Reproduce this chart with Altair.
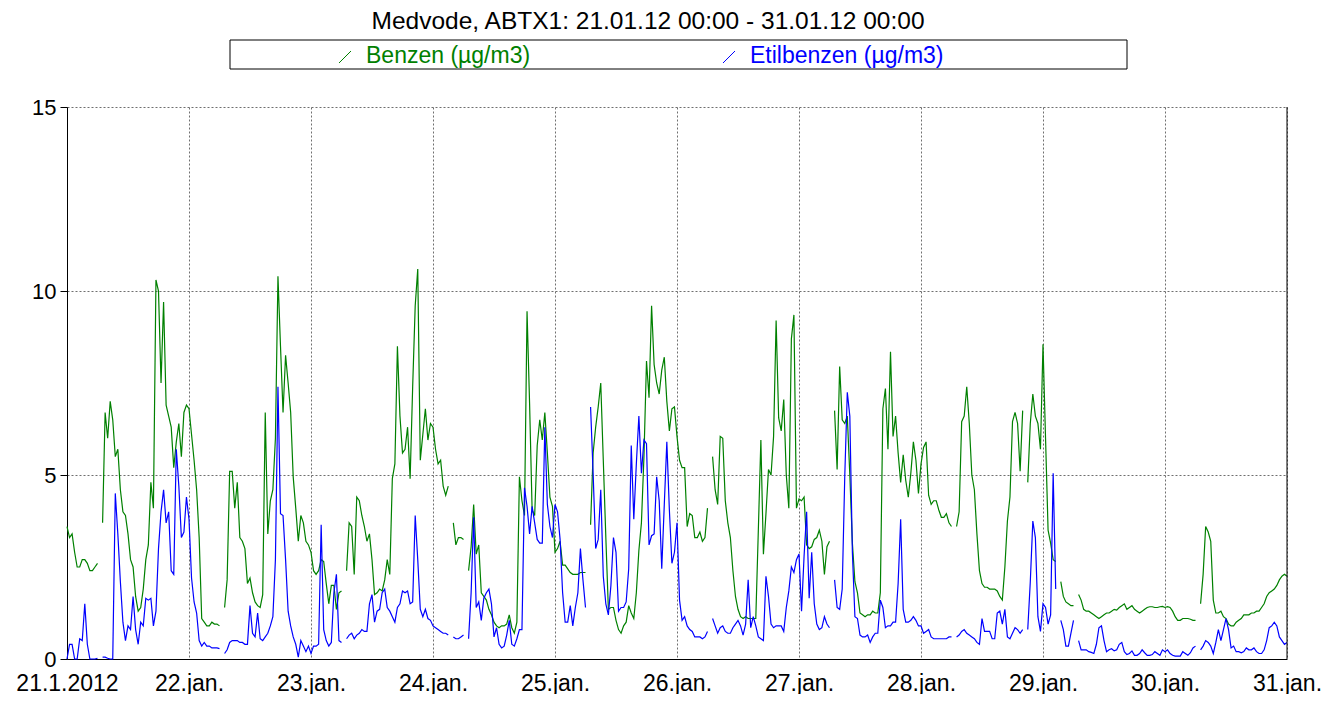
import altair as alt
import pandas as pd

N = None
title_text = "Medvode, ABTX1: 21.01.12 00:00 - 31.01.12 00:00"
series_names = ["Benzen (µg/m3)", "Etilbenzen (µg/m3)"]
series_colors = ["#008000", "#0000ff"]
x_labels = ["21.1.2012", "22.jan.", "23.jan.", "24.jan.", "25.jan.", "26.jan.",
            "27.jan.", "28.jan.", "29.jan.", "30.jan.", "31.jan."]
y_ticks = [0, 5, 10, 15]

# half-hourly values, 48 per day (None = missing)
benzen_21 = [3.6, 3.3, 3.4, 2.9, 2.5, 2.5, 2.7, 2.7, 2.6, 2.4, 2.4, 2.5, 2.6, N, 3.7, 6.7, 6.0, 7.0, 6.5, 5.5, 5.7, 4.6, 4.0, 3.9, 3.4, 2.7, 2.5, 1.7, 1.3, 1.4, 1.9, 2.7, 3.1, 4.8, 4.1, 10.3, 10.0, 7.5, 9.7, 6.9, 6.6, 6.3, 5.2, 5.9, 6.4, 5.5, 6.7, 6.9]
benzen_22 = [6.8, 6.1, 5.4, 4.6, 3.3, 1.1, 1.0, 0.9, 0.9, 1.0, 0.95, 0.95, 0.9, N, 1.4, 2.15, 5.1, 5.1, 4.1, 4.8, 3.3, 3.2, 3.0, 2.05, 2.2, 1.8, 1.55, 1.45, 1.4, 1.75, 6.7, 3.4, 4.3, 4.6, 6.0, 10.4, 8.5, 6.7, 8.25, 7.5, 6.7, 4.95, 4.1, 3.2, 3.9, 3.7, 3.2, 3.1]
benzen_23 = [2.9, 2.4, 2.3, 2.4, 2.7, 2.65, 2.05, 1.5, 2.0, 2.0, 1.35, 1.8, 1.85, N, 2.4, 3.7, 3.6, 2.3, 4.4, 4.3, 3.9, 3.6, 3.2, 3.4, 2.7, 1.75, 1.8, 1.9, 1.85, 2.15, 2.7, 2.3, 4.9, 5.3, 8.5, 6.6, 5.6, 5.7, 6.3, 4.9, 7.4, 9.6, 10.6, 5.4, 6.1, 6.8, 5.95, 6.4]
benzen_24 = [6.3, 5.7, 5.3, 5.4, 4.7, 4.45, 4.7, N, 3.7, 3.1, 3.3, 3.3, 3.25, N, 2.4, 3.05, 4.2, 2.85, 3.1, 1.8, 1.7, 1.6, 1.35, 1.2, 1.0, 0.9, 0.85, 0.9, 0.9, 0.95, 1.2, 0.85, 0.7, 1.0, 4.95, 4.3, 3.9, 9.45, 6.95, 4.05, 3.9, 5.8, 6.5, 5.95, 6.7, 5.6, 4.4, 4.15]
benzen_25 = [2.9, 3.0, 3.2, 2.55, 2.55, 2.45, 2.35, 2.3, 2.3, 2.3, 2.35, 2.35, 2.35, N, 3.65, 5.6, 6.3, 6.85, 7.5, 5.4, 3.3, 1.35, 1.4, 1.4, 1.05, 0.8, 0.7, 0.9, 1.0, 1.45, 1.25, 1.1, 1.8, 2.95, 3.7, 5.5, 8.1, 7.1, 9.6, 8.0, 7.5, 7.2, 7.85, 8.2, 7.0, 6.2, 6.8, 6.85]
benzen_26 = [6.05, 5.4, 5.2, 5.2, 3.6, 3.95, 3.9, 3.3, 3.3, 3.45, 3.2, 3.3, 4.1, N, 5.5, 4.6, 4.2, 6.05, 6.0, 4.3, 3.7, 3.3, 2.4, 1.7, 1.35, 1.15, 1.1, 1.15, 1.1, 1.1, 1.1, 1.1, 3.5, 5.95, 2.85, 3.95, 5.15, 5.0, 6.05, 9.2, 6.55, 6.2, 7.05, 5.0, 4.1, 8.7, 9.35, 4.1]
benzen_27 = [4.35, 4.3, 4.4, 3.1, 3.0, 3.05, 3.25, 3.3, 3.5, 3.2, 2.3, 3.05, 3.2, N, 6.75, 5.15, 7.95, 6.5, 6.4, 6.6, 5.0, 3.15, 2.1, 1.8, 1.25, 1.2, 1.15, 1.2, 1.2, 1.3, 1.25, 1.25, 1.8, 6.8, 7.35, 5.7, 8.35, 6.05, 6.6, 5.6, 4.8, 5.55, 4.85, 4.4, 5.05, 5.9, 5.4, 4.5]
benzen_28 = [5.3, 5.75, 5.9, 4.45, 4.2, 4.3, 4.3, 4.05, 3.85, 3.85, 3.95, 3.7, 3.6, N, 3.6, 4.0, 6.45, 6.6, 7.4, 6.4, 5.0, 4.6, 3.4, 2.4, 2.05, 1.95, 1.95, 1.9, 1.9, 1.9, 1.85, 1.7, 1.6, 2.5, 3.75, 4.4, 6.45, 6.7, 6.4, 5.1, 6.75, N, 4.8, 6.4, 7.2, 6.6, 6.4, 5.7]
benzen_29 = [8.55, 6.0, 3.5, 3.15, 2.7, 2.65, N, 2.1, 1.7, 1.55, 1.5, 1.45, 1.45, N, 1.75, 1.6, 1.35, 1.3, 1.3, 1.25, 1.2, 1.15, 1.1, 1.15, 1.2, 1.25, 1.25, 1.3, 1.35, 1.33, 1.4, 1.45, 1.5, 1.35, 1.4, 1.45, 1.35, 1.3, 1.25, 1.3, 1.35, 1.4, 1.42, 1.42, 1.4, 1.4, 1.42, 1.43]
benzen_30 = [1.4, 1.42, 1.4, 1.3, 1.15, 1.05, 1.05, 1.1, 1.1, 1.1, 1.08, 1.05, 1.05, N, 1.5, 2.3, 3.6, 3.45, 3.2, 1.6, 1.25, 1.25, 1.3, 1.15, 1.1, 0.95, 0.9, 0.9, 1.0, 1.05, 1.1, 1.2, 1.2, 1.2, 1.25, 1.25, 1.3, 1.3, 1.4, 1.5, 1.7, 1.8, 1.85, 1.9, 2.0, 2.15, 2.25, 2.3]
benzen_end = 2.25

etil_21 = [0.0, 0.4, 0.4, 0.0, 0.0, 0.55, 0.5, 1.5, 0.4, 0.0, 0.0, 0.0, 0.02, N, 0.05, 0.05, 0.02, 0.0, 0.0, 4.5, 3.4, 2.1, 1.0, 0.5, 0.9, 0.8, 1.7, 0.8, 0.4, 1.0, 0.9, 1.65, 1.6, 1.65, 0.9, 1.3, 3.0, 4.0, 4.6, 3.7, 4.0, 2.4, 2.3, 5.7, 4.7, 3.3, 3.45, 4.4]
etil_22 = [3.8, 2.2, 1.55, 1.25, 0.5, 0.35, 0.45, 0.35, 0.35, 0.3, 0.3, 0.3, 0.28, N, 0.15, 0.25, 0.45, 0.5, 0.5, 0.5, 0.45, 0.45, 0.4, 0.4, 1.45, 0.7, 0.6, 1.25, 0.55, 0.5, 0.6, 0.7, 0.9, 1.15, 2.7, 7.4, 3.95, 3.9, 2.7, 1.3, 0.9, 0.6, 0.4, 0.05, 0.5, 0.35, 0.2, 0.35]
etil_23 = [0.15, 0.35, 0.35, 0.4, 3.65, 0.8, 0.5, 0.35, 0.45, 1.8, 2.3, 0.5, 0.45, N, 0.55, 0.65, 0.7, 0.55, 0.65, 0.7, 0.8, 0.75, 0.75, 1.5, 1.75, 1.0, 1.3, 1.35, 1.8, 1.9, 1.4, 1.3, 1.15, 1.0, 1.4, 1.5, 1.85, 1.8, 1.85, 1.5, 1.55, 3.9, 2.7, 1.35, 1.15, 1.35, 1.1, 1.05]
etil_24 = [0.9, 0.85, 0.8, 0.75, 0.7, 0.7, 0.65, N, 0.6, 0.55, 0.55, 0.6, 0.65, N, 0.55, 1.8, 3.85, 1.4, 1.55, 1.05, 1.65, 1.8, 1.9, 1.5, 0.6, 0.85, 0.4, 0.3, 0.35, 0.65, 1.05, 0.4, 0.35, 0.55, 0.8, 0.8, 4.65, 4.15, 3.4, 4.15, 3.7, 3.25, 3.15, 3.15, 6.3, 4.2, 3.6, 3.3]
etil_25 = [4.2, 4.0, 3.25, 1.8, 1.0, 1.0, 1.45, 0.9, 1.4, 1.8, 3.0, 2.15, 1.4, N, 6.85, 5.05, 3.0, 3.25, 4.6, 2.25, 1.5, 1.2, 2.0, 3.3, 2.9, 1.3, 1.4, 1.4, 1.55, 2.45, 5.8, 3.8, 5.3, 6.6, 5.05, 5.95, 5.85, 3.1, 3.35, 3.4, 4.95, 4.3, 2.45, 4.2, 5.9, 4.05, 2.6, 2.9]
etil_26 = [3.7, 1.6, 1.05, 1.15, 0.9, 0.8, 0.75, 0.6, 0.6, 0.6, 0.55, 0.6, 0.75, N, 1.1, 0.9, 0.7, 0.85, 0.9, 0.75, 0.7, 0.7, 0.85, 0.95, 1.05, 0.9, 0.65, 0.95, 2.15, 0.85, 1.15, 0.9, 0.6, 0.55, 0.5, 2.25, 1.7, 0.95, 0.85, 0.9, 0.9, 0.9, 0.75, 1.4, 1.85, 2.5, 2.35, 2.7]
etil_27 = [2.85, 1.3, 2.8, 4.0, 1.65, 2.9, 1.5, 0.95, 0.8, 0.85, 1.15, 0.95, 0.85, N, 2.15, 1.4, 1.35, 1.9, 4.95, 7.25, 6.6, 2.9, 1.15, 1.1, 0.65, 0.6, 0.6, 0.65, 0.45, 0.6, 0.7, 0.7, 1.6, 1.4, 0.85, 0.9, 0.9, 1.0, 1.0, 2.05, 3.8, 1.35, 1.0, 1.0, 1.05, 1.15, 1.05, 0.9]
etil_28 = [0.9, 0.7, 0.75, 0.8, 0.6, 0.55, 0.55, 0.55, 0.55, 0.55, 0.55, 0.6, 0.6, N, 0.6, 0.65, 0.75, 0.8, 0.7, 0.65, 0.6, 0.55, 0.45, 0.4, 1.1, 0.75, 0.75, 0.75, 0.55, 0.55, 1.25, 1.3, 0.95, 1.35, 0.6, 0.55, 0.7, 0.85, 0.8, 0.7, 0.8, N, 0.8, 2.1, 3.75, 3.3, 1.15, 0.75]
etil_29 = [1.5, 1.4, 0.95, 1.2, 5.05, 1.9, N, 1.05, 0.8, 0.35, 0.35, 0.7, 1.05, N, 0.5, 0.25, 0.25, 0.25, 0.2, 0.18, 0.15, 0.4, 0.85, 0.9, 0.5, 0.2, 0.25, 0.28, 0.22, 0.25, 0.4, 0.45, 0.2, 0.12, 0.15, 0.22, 0.1, 0.1, 0.15, 0.25, 0.17, 0.1, 0.1, 0.12, 0.2, 0.15, 0.1, 0.25]
etil_30 = [0.2, 0.25, 0.15, 0.1, 0.08, 0.08, 0.08, 0.2, 0.15, 0.1, 0.17, 0.3, 0.35, N, 0.25, 0.35, 0.5, 0.45, 0.35, 0.15, 0.45, 0.8, 0.5, 0.8, 1.1, 0.8, 0.3, 0.35, 0.2, 0.2, 0.17, 0.2, 0.3, 0.25, 0.25, 0.3, 0.2, 0.15, 0.15, 0.25, 0.5, 0.85, 0.9, 1.0, 0.9, 0.6, 0.5, 0.4]
etil_end = 0.45

benzen_all = (benzen_21 + benzen_22 + benzen_23 + benzen_24 + benzen_25 + benzen_26
              + benzen_27 + benzen_28 + benzen_29 + benzen_30 + [benzen_end])
etil_all = (etil_21 + etil_22 + etil_23 + etil_24 + etil_25 + etil_26
            + etil_27 + etil_28 + etil_29 + etil_30 + [etil_end])

rows = []
for name, vals in zip(series_names, [benzen_all, etil_all]):
    seg = 0
    for i, v in enumerate(vals):
        if v is None:
            seg += 1
            continue
        rows.append({"t": i / 48.0, "v": v, "series": name, "seg": f"{name}-{seg}"})
df = pd.DataFrame(rows)

FONT = "Liberation Sans"
W, H = 1220, 552
label_js = "[" + ",".join("'" + s + "'" for s in x_labels) + "]"

lines = alt.Chart(df).mark_line(strokeWidth=1.2).encode(
    x=alt.X("t:Q",
            scale=alt.Scale(domain=[0, 10], nice=False, zero=False),
            axis=alt.Axis(values=list(range(11)), labelExpr=label_js + "[round(datum.value)]",
                          title=None, grid=True, gridColor="#6f6f6f", gridDash=[2, 2],
                          gridWidth=1, tickSize=0, labelPadding=31, labelBaseline="alphabetic",
                          labelFontSize=23, labelFont=FONT, labelColor="black",
                          labelFlush=False, labelOverlap=False, labelBound=False,
                          domainColor="black", domainWidth=1)),
    y=alt.Y("v:Q",
            scale=alt.Scale(domain=[0, 15], nice=False, zero=True),
            axis=alt.Axis(values=y_ticks, title=None, grid=True, gridColor="#6f6f6f",
                          gridDash=[2, 2], gridWidth=1, tickSize=7, tickColor="black",
                          labelPadding=4, labelFontSize=22, labelFont=FONT,
                          labelColor="black", domainColor="black", domainWidth=1)),
    color=alt.Color("series:N", scale=alt.Scale(domain=series_names, range=series_colors),
                    legend=None),
    detail="seg:N",
)

right_border = alt.Chart(pd.DataFrame({"a": [0]})).mark_rule(color="black", strokeWidth=1).encode(
    x=alt.value(W), y=alt.value(0), y2=alt.value(H))

title_mark = alt.Chart(pd.DataFrame({"t": [title_text]})).mark_text(
    font=FONT, fontSize=24.5, color="black", align="center", baseline="middle"
).encode(text="t:N", x=alt.value(581), y=alt.value(-85))

legend_box = alt.Chart(pd.DataFrame({"a": [0]})).mark_rect(
    fill="white", stroke="black", strokeWidth=1
).encode(x=alt.value(163), x2=alt.value(1060), y=alt.value(-67), y2=alt.value(-38))

leg_text_1 = alt.Chart(pd.DataFrame({"n": [series_names[0]]})).mark_text(
    font=FONT, fontSize=23, color=series_colors[0], align="left", baseline="middle"
).encode(text="n:N", x=alt.value(299), y=alt.value(-51))
leg_text_2 = alt.Chart(pd.DataFrame({"n": [series_names[1]]})).mark_text(
    font=FONT, fontSize=23, color=series_colors[1], align="left", baseline="middle"
).encode(text="n:N", x=alt.value(683), y=alt.value(-51))
leg_sym_1 = alt.Chart(pd.DataFrame({"a": [0]})).mark_rule(
    color=series_colors[0], strokeWidth=1
).encode(x=alt.value(272), x2=alt.value(284), y=alt.value(-44), y2=alt.value(-56))
leg_sym_2 = alt.Chart(pd.DataFrame({"a": [0]})).mark_rule(
    color=series_colors[1], strokeWidth=1
).encode(x=alt.value(656), x2=alt.value(668), y=alt.value(-44), y2=alt.value(-56))

chart = alt.layer(
    lines, right_border, title_mark, legend_box, leg_sym_1, leg_sym_2, leg_text_1, leg_text_2
).properties(
    width=W, height=H,
    autosize=alt.AutoSizeParams(type="none"),
    padding={"left": 59, "top": 99, "right": 35, "bottom": 35},
    background="white",
).configure_view(stroke=None)

chart.save("out.html", embed_options={"renderer": "svg", "actions": False})
